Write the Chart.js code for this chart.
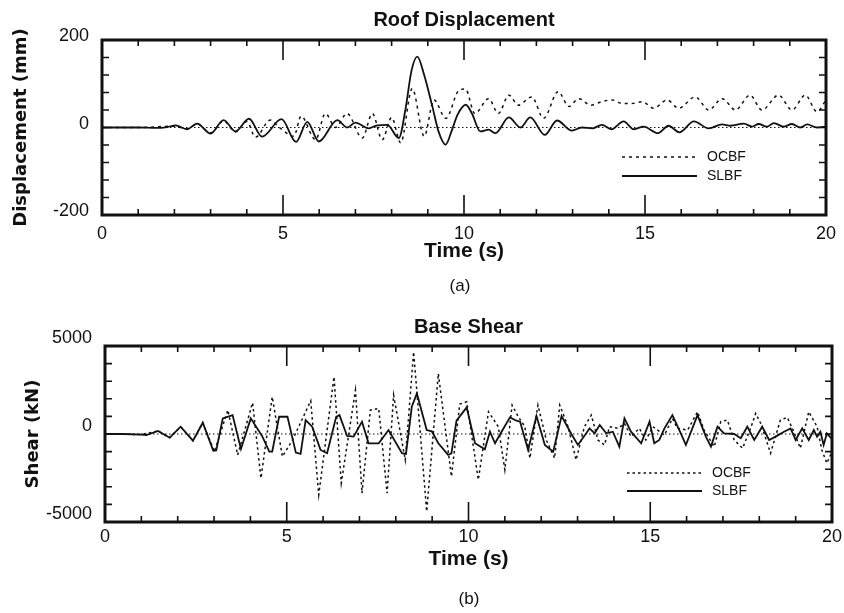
<!DOCTYPE html>
<html>
<head>
<meta charset="utf-8">
<script src="https://cdn.jsdelivr.net/npm/chart.js@4.4.1/dist/chart.umd.min.js"></script>
<style>
  body { margin: 0; background: #fff; }
  #wrap { position: relative; width: 844px; height: 613px; }
  canvas { position: absolute; left: 0; }
  #c1 { top: 0; }
  #c2 { top: 305px; }
  .cap { position: absolute; font: 17px "Liberation Sans", Arial, sans-serif; color: #111; transform: translate(-50%, -50%); }
</style>
</head>
<body>
<div id="wrap">
  <canvas id="c1" width="844" height="305"></canvas>
  <canvas id="c2" width="844" height="308"></canvas>
  <div class="cap" style="left:460px;top:286px">(a)</div>
  <div class="cap" style="left:469px;top:599px">(b)</div>
</div>
<script>
// (a) roof displacement, mm
const roofTimeOCBF = [0, 1, 2, 2.35, 2.63, 3.0, 3.36, 3.69, 4.0, 4.24, 4.65, 4.9, 5.3, 5.5, 5.9, 6.17, 6.45, 6.77, 7.19, 7.47, 7.74, 8.0, 8.25, 8.57, 8.9, 9.17, 9.5, 9.86, 10.04, 10.3, 10.68, 10.95, 11.24, 11.5, 11.87, 12.2, 12.6, 12.9, 13.17, 13.5, 13.8, 14.09, 14.37, 14.64, 14.92, 15.24, 15.61, 15.93, 16.39, 16.76, 17.13, 17.5, 17.9, 18.23, 18.69, 19.06, 19.43, 19.75, 20];
const roofOCBF = [0, 0, 3, -3, 8, -12, 15, -10, 14, -22, 17, 0, -20, 26, -28, 32, 0, 32, -24, 32, -28, 23, -35, 89, -20, 63, 21, 85, 88, 32, 66, 32, 74, 51, 70, 21, 82, 48, 66, 51, 59, 63, 55, 55, 59, 44, 63, 44, 70, 40, 66, 40, 74, 40, 74, 40, 74, 36, 63];
const roofTimeSLBF = [0, 0.5, 1.0, 1.5, 1.8, 2.03, 2.35, 2.63, 3.0, 3.36, 3.69, 4.06, 4.42, 4.96, 5.36, 5.67, 5.99, 6.5, 6.77, 7.0, 7.37, 7.6, 7.88, 8.2, 8.38, 8.55, 8.71, 8.9, 9.12, 9.3, 9.49, 9.65, 9.82, 10.05, 10.22, 10.45, 10.68, 10.87, 11.24, 11.56, 11.83, 12.23, 12.57, 12.98, 13.26, 13.54, 13.81, 14.07, 14.41, 14.69, 14.96, 15.36, 15.65, 15.95, 16.35, 16.76, 17.13, 17.36, 17.73, 17.96, 18.14, 18.37, 18.56, 18.83, 19.06, 19.29, 19.48, 19.75, 20];
const roofSLBF = [0, 0, 0, -1, 1, 5, -4, 9, -14, 17, -9, 20, -21, 19, -33, 13, -32, 17, 0, 11, -2, 5, 6, -24, 40, 130, 162, 120, 50, -10, -39, -10, 29, 52, 32, -9, -5, -13, 23, 0, 23, -17, 16, -7, 0, -2, 6, -4, 14, -4, 2, -13, 4, -11, 14, -2, 7, 4, 9, 2, 8, 2, 10, 2, 8, 0, 7, 0, 2];

// (b) base shear, kN
const shearTimeOCBF = [0, 1, 1.46, 1.78, 2.08, 2.42, 2.69, 3.01, 3.38, 3.65, 4.06, 4.29, 4.6, 4.88, 5.16, 5.66, 5.88, 6.3, 6.5, 6.89, 7.07, 7.3, 7.53, 7.76, 7.94, 8.26, 8.49, 8.85, 9.17, 9.53, 9.76, 9.95, 10.27, 10.55, 10.82, 11.0, 11.2, 11.37, 11.55, 11.69, 11.91, 12.14, 12.37, 12.51, 12.74, 12.96, 13.19, 13.38, 13.56, 13.74, 13.88, 14.11, 14.29, 14.47, 14.7, 14.88, 15.07, 15.39, 15.61, 15.75, 16.03, 16.3, 16.48, 16.76, 16.94, 17.12, 17.31, 17.54, 17.76, 17.9, 18.04, 18.31, 18.58, 18.77, 18.95, 19.13, 19.36, 19.59, 19.72, 19.86, 20];
const shearOCBF = [0, -30, 170, -208, 415, -377, 640, -1000, 1358, -1190, 1774, -2510, 2113, -1283, -340, 1887, -3453, 3245, -2793, 2490, -3359, 1358, 1453, -3359, 2208, -1472, 4661, -4397, 3434, -2415, 1698, 1830, -2604, 1264, 415, -2038, 1640, 980, 415, -1377, 1640, -340, -1377, 1640, 415, -1472, 415, 1075, -340, -623, 415, 320, 600, -150, 320, -340, 415, -60, 887, 320, 226, 1264, 226, -717, 700, 792, -340, -811, 320, 1170, 600, -1094, 792, 943, 130, -811, 1264, 415, -905, -1660, -1000];
const shearTimeSLBF = [0, 0.5, 1.0, 1.14, 1.46, 1.78, 2.08, 2.42, 2.69, 2.98, 3.06, 3.24, 3.51, 3.74, 4.01, 4.33, 4.52, 4.6, 4.79, 5.02, 5.25, 5.38, 5.52, 5.7, 5.93, 6.11, 6.36, 6.45, 6.66, 6.84, 7.07, 7.25, 7.53, 7.8, 8.17, 8.28, 8.44, 8.58, 8.85, 8.99, 9.17, 9.44, 9.53, 9.67, 9.95, 10.18, 10.45, 10.59, 10.73, 10.91, 11.14, 11.32, 11.42, 11.64, 11.87, 12.1, 12.33, 12.56, 12.83, 13.01, 13.24, 13.33, 13.47, 13.61, 13.79, 13.97, 14.15, 14.29, 14.47, 14.75, 14.98, 15.11, 15.25, 15.39, 15.61, 15.84, 15.98, 16.3, 16.53, 16.67, 16.85, 17.03, 17.31, 17.49, 17.67, 17.86, 18.08, 18.27, 18.45, 18.68, 18.86, 19.0, 19.18, 19.36, 19.5, 19.59, 19.68, 19.77, 19.86, 20];
const shearSLBF = [0, 0, -30, -57, 170, -208, 415, -377, 640, -960, -940, 887, 1075, -850, 887, -150, -1000, -1000, 980, 980, -1057, -1130, 790, 415, -905, -1094, 980, 1075, -113, -150, 700, -528, -528, 226, -1094, -1130, 1547, 2300, 226, 150, -528, -1190, -1100, 755, 1510, -528, -868, 130, -528, 130, 943, 755, 700, -905, 1019, -623, -1000, 1019, 0, -623, 40, 320, 40, 509, 40, 130, -717, 887, 130, -528, 700, -528, -340, 320, 1075, 40, -623, 1075, -150, -717, 415, 40, 0, -245, 415, -340, 415, -340, -150, 130, 320, -340, 320, -340, 226, -150, 130, -623, 40, -300];

const roofYLabels = [-200, 0, 200];
const shearYLabels = [-5000, 0, 5000];
const timeLabels = [0, 5, 10, 15, 20];

const FONT = '"Liberation Sans", Arial, sans-serif';
const INK = '#111';

const pts = (xs, ys) => xs.map((t, i) => ({ x: t, y: ys[i] }));

// zero line, inward ticks on all four sides, heavy frame, inline legend
const frame = {
  id: 'frame',
  beforeDatasetsDraw(chart) {
    const { ctx, chartArea: a, scales: { y } } = chart;
    const y0 = y.getPixelForValue(0);
    ctx.save();
    ctx.strokeStyle = INK;
    ctx.lineWidth = 1.2;
    ctx.setLineDash([1.5, 2.5]);
    ctx.beginPath();
    ctx.moveTo(a.left, y0);
    ctx.lineTo(a.right, y0);
    ctx.stroke();
    ctx.restore();
  },
  afterDatasetsDraw(chart, args, opts) {
    const { ctx, chartArea: a, scales: { x, y } } = chart;
    ctx.save();
    ctx.strokeStyle = INK;
    ctx.lineWidth = 1.6;
    ctx.beginPath();
    x.ticks.forEach((t) => {
      const px = x.getPixelForValue(t.value);
      const len = t.value % 5 === 0 ? 20 : 6;
      ctx.moveTo(px, a.bottom);
      ctx.lineTo(px, a.bottom - len);
      ctx.moveTo(px, a.top);
      ctx.lineTo(px, a.top + len);
    });
    y.ticks.forEach((t) => {
      const py = y.getPixelForValue(t.value);
      ctx.moveTo(a.left, py);
      ctx.lineTo(a.left + 7, py);
      ctx.moveTo(a.right, py);
      ctx.lineTo(a.right - 7, py);
    });
    ctx.stroke();
    ctx.lineWidth = 3;
    ctx.strokeRect(a.left, a.top, a.right - a.left, a.bottom - a.top);

    ctx.fillStyle = INK;
    ctx.font = '14px ' + FONT;
    ctx.textBaseline = 'middle';
    chart.data.datasets.forEach((ds, i) => {
      const x0 = a.right - opts.right;
      const yy = a.top + opts.top + i * opts.gap;
      ctx.setLineDash(ds.borderDash || []);
      ctx.lineWidth = ds.borderWidth;
      ctx.beginPath();
      ctx.moveTo(x0, yy);
      ctx.lineTo(x0 + 75, yy);
      ctx.stroke();
      ctx.setLineDash([]);
      ctx.fillText(ds.label, x0 + 85, yy);
    });
    ctx.restore();
  }
};

function makeChart(id, c) {
  return new Chart(document.getElementById(id), {
    type: 'line',
    data: {
      datasets: [
        {
          label: 'OCBF',
          data: pts(c.tOCBF, c.OCBF),
          borderColor: INK,
          borderWidth: 1.5,
          borderDash: c.dash,
          pointRadius: 0,
          cubicInterpolationMode: c.smooth ? 'monotone' : 'default',
          tension: 0,
          order: 1
        },
        {
          label: 'SLBF',
          data: pts(c.tSLBF, c.SLBF),
          borderColor: INK,
          borderWidth: 1.8,
          pointRadius: 0,
          cubicInterpolationMode: c.smooth ? 'monotone' : 'default',
          tension: 0,
          order: 0
        }
      ]
    },
    options: {
      responsive: false,
      animation: false,
      events: [],
      layout: { padding: { left: 0, top: 0, right: c.padRight, bottom: 41 } },
      scales: {
        x: {
          type: 'linear',
          min: 0,
          max: 20,
          grid: { display: false, drawTicks: false },
          border: { display: false },
          ticks: {
            stepSize: 1,
            autoSkip: false,
            maxRotation: 0,
            padding: c.xPad,
            color: INK,
            font: { family: FONT, size: 18 },
            callback: (v) => (timeLabels.includes(v) ? String(v) : '')
          },
          title: {
            display: true,
            text: 'Time (s)',
            color: INK,
            padding: { top: 0, bottom: 0 },
            font: { family: FONT, size: 21, weight: 'bold' }
          },
          afterFit: (s) => {
            s.height = c.xHeight;
            s.paddingLeft = 0;
            s.paddingRight = 0;
          }
        },
        y: {
          min: c.yMin,
          max: c.yMax,
          grid: { display: false, drawTicks: false },
          border: { display: false },
          ticks: {
            stepSize: c.yStep,
            autoSkip: false,
            padding: 13,
            labelOffset: c.yLabelOffset,
            color: INK,
            font: { family: FONT, size: 18 },
            callback: (v) => (c.yLabels.includes(v) ? String(v) : '')
          },
          title: {
            display: true,
            text: c.yTitle,
            color: INK,
            padding: { top: c.yTitlePad, bottom: 0 },
            font: { family: '"DejaVu Sans", sans-serif', size: 18, weight: 'bold' }
          },
          afterFit: (s) => {
            s.width = c.yWidth;
            s.paddingTop = 0;
            s.paddingBottom = 0;
          }
        }
      },
      plugins: {
        legend: { display: false },
        tooltip: { enabled: false },
        title: {
          display: true,
          text: c.title,
          fullSize: false,
          color: INK,
          padding: c.titlePad,
          font: { family: FONT, size: 20, weight: 'bold' }
        },
        frame: c.legend
      }
    },
    plugins: [frame]
  });
}

makeChart('c1', {
  title: 'Roof Displacement',
  yTitle: 'Displacement (mm)',
  tOCBF: roofTimeOCBF, OCBF: roofOCBF,
  tSLBF: roofTimeSLBF, SLBF: roofSLBF,
  smooth: true,
  dash: [3, 4],
  yMin: -200, yMax: 200, yStep: 40, yLabels: roofYLabels,
  yLabelOffset: -3.5,
  yWidth: 102, yTitlePad: 11,
  xHeight: 49, xPad: 8,
  padRight: 18,
  titlePad: { top: 8, bottom: 8 },
  legend: { right: 204, top: 117, gap: 19 }
});

makeChart('c2', {
  title: 'Base Shear',
  yTitle: 'Shear (kN)',
  tOCBF: shearTimeOCBF, OCBF: shearOCBF,
  tSLBF: shearTimeSLBF, SLBF: shearSLBF,
  smooth: false,
  dash: [2.5, 3],
  yMin: -5000, yMax: 5000, yStep: 1000, yLabels: shearYLabels,
  yLabelOffset: -7.5,
  yWidth: 105, yTitlePad: 23,
  xHeight: 50, xPad: 4,
  padRight: 12,
  titlePad: { top: 10, bottom: 7 },
  legend: { right: 205, top: 127, gap: 18 }
});
</script>
</body>
</html>
